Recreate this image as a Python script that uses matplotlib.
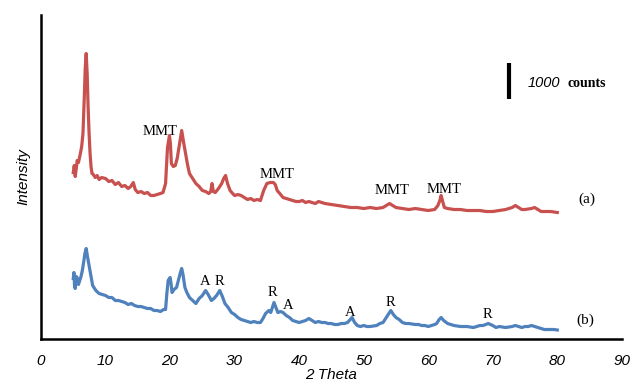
import matplotlib.pyplot as plt

# XRD patterns, intensities in arbitrary units
theta_a = [5.0, 5.15, 5.3, 5.5, 5.6, 5.8, 6.1, 6.3, 6.5, 6.7, 6.85, 7.0, 7.15, 7.3, 7.45,
           7.6, 7.75, 7.9, 8.1, 8.4, 8.7, 9.0, 9.4, 10, 10.5, 11, 11.5, 12, 12.5, 13,
           13.5, 13.9, 14.3, 14.6, 15, 15.5, 16, 16.5, 17, 17.5, 18, 18.5, 18.9, 19.3,
           19.6, 19.9, 20.05, 20.2, 20.5, 20.8, 21.1, 21.3, 21.6, 21.8, 22.1, 22.4,
           22.7, 23, 23.5, 24, 24.5, 25, 25.5, 26, 26.3, 26.5, 26.7, 27, 27.5, 28,
           28.3, 28.6, 28.9, 29.3, 29.7, 30, 30.5, 31, 31.5, 32, 32.5, 33, 33.5, 34,
           34.5, 35, 35.5, 36, 36.3, 36.6, 37, 37.5, 38, 38.5, 39, 39.5, 40, 40.5, 41,
           41.5, 42, 42.5, 43, 43.5, 44, 45, 46, 47, 48, 49, 50, 51, 52, 53, 53.5, 54,
           54.5, 55, 56, 57, 58, 59, 60, 61, 61.5, 61.8, 62, 62.2, 62.5, 63, 64, 65,
           66, 67, 68, 69, 70, 71, 72, 73, 73.5, 74, 74.5, 75, 76, 76.5, 77, 77.5, 78,
           79, 80]
int_a = [166, 173, 162, 172, 178, 176, 185, 192, 205, 240, 270, 285, 265, 231, 205,
         185, 172, 165, 164, 161, 163, 159, 161, 160, 157, 158, 154, 156, 152, 153,
         150, 152, 156, 149, 146, 147, 145, 146, 143, 143, 144, 145, 146, 155,
         191, 203, 195, 175, 172, 173, 180, 188, 200, 208, 196, 185,
         174, 165, 160, 155, 152, 148, 147, 145, 147, 155, 147, 146, 150, 155,
         160, 163, 155, 148, 145, 143, 144, 143, 141, 139, 140, 138, 139, 138,
         148, 155, 156, 156, 154, 148, 145, 141, 140, 139, 138, 137, 137, 138, 136,
         137, 136, 135, 137, 136, 135, 134, 133, 132, 131, 131, 130, 131, 130, 131, 133, 135,
         133, 131, 130, 129, 130, 129, 128, 129, 133, 138, 143, 138, 131, 130, 129, 129,
         128, 128, 128, 127, 127, 128, 129, 131, 133, 131, 129, 129, 130, 131, 129, 127, 127,
         127, 126]

theta_b = [5.0, 5.1, 5.2, 5.3, 5.45, 5.6, 5.8, 6.0, 6.2, 6.4, 6.6, 6.8, 7.0, 7.2, 7.5,
           7.8, 8.0, 8.5, 9, 9.5, 10, 10.5, 11, 11.5, 12, 12.5, 13, 13.5, 14, 14.5, 15,
           15.5, 16, 16.5, 17, 17.5, 18, 18.5, 19, 19.3, 19.5, 19.7, 20.0, 20.15, 20.3,
           20.6, 21, 21.2, 21.4, 21.6, 21.8, 22.0, 22.3, 22.6, 23, 23.5, 24, 24.5, 25,
           25.5, 25.9, 26.4, 26.8, 27.2, 27.7, 28.1, 28.5, 29, 29.5, 30, 30.5, 31, 31.5,
           32, 32.5, 33, 33.5, 34, 34.4, 34.8, 35.3, 35.6, 35.9, 36.1, 36.4, 36.7, 37.1,
           37.5, 38, 38.5, 39, 39.5, 40, 40.5, 41, 41.5, 42, 42.5, 43, 43.5, 44, 44.5,
           45, 45.5, 46, 46.5, 47, 47.5, 48.2, 48.6, 49, 49.5, 50, 50.5, 51, 52, 52.5,
           53, 53.6, 54.2, 54.6, 55, 55.5, 56, 56.5, 57, 58, 58.5, 59, 59.5, 60, 60.5,
           61, 61.3, 61.7, 62, 62.4, 63, 63.5, 64, 65, 66, 67, 67.5, 68, 68.5, 69.3, 70,
           70.5, 71, 72, 73, 73.5, 74, 74.5, 75, 75.5, 76, 76.5, 77, 77.5, 78, 79, 79.5, 80]
int_b = [60, 66, 52, 50, 62, 61, 54, 58, 62, 68, 76, 85, 90, 82, 71,
         60, 53, 48, 45, 44, 43, 41, 41, 38, 38, 37, 36, 34, 35, 33, 32,
         32, 31, 30, 30, 28, 28, 27, 29, 29, 45, 58, 61, 55, 46,
         49, 51, 56, 61, 66, 70, 64, 51, 46, 41, 38, 35, 40, 43,
         48, 44, 38, 40, 43, 48, 42, 35, 31, 26, 24, 21, 19, 18,
         17, 16, 17, 16, 16, 20, 25, 28, 26, 32, 36, 31, 26, 27,
         26, 23, 21, 18, 17, 16, 17, 18, 20, 18, 16, 17, 16, 16, 15,
         15, 14, 14, 15, 15, 16, 21, 16, 13, 12, 13, 12, 12, 13, 15,
         16, 22, 28, 24, 21, 19, 16, 15, 15, 14, 14, 13, 13, 12, 13,
         14, 15, 19, 21, 18, 15, 14, 13, 12, 12, 11, 12, 13, 13, 15, 13,
         11, 12, 11, 12, 13, 12, 11, 12, 12, 13, 12, 11, 10, 9, 9, 9, 8.5]

# phase labels: (text, 2theta, height)
labels_a = [("MMT", 18.4, 207), ("MMT", 36.6, 164), ("MMT", 54.4, 148), ("MMT", 62.4, 149)]
labels_b = [("A", 25.4, 57), ("R", 27.7, 57), ("R", 35.8, 46), ("A", 38.3, 33),
            ("A", 47.9, 26), ("R", 54.2, 36), ("R", 69.1, 24)]
xticks = [0, 10, 20, 30, 40, 50, 60, 70, 80, 90]

red = '#c8504e'
blue = '#4f81bd'
serif = 'Liberation Serif'
sans = 'Liberation Sans'

fig = plt.figure(figsize=(6.32, 3.89), dpi=100)
ax = fig.add_axes([0.0649, 0.1298, 0.919, 0.8316])

ax.plot(theta_a, int_a, color=red, lw=2.3, solid_joinstyle='round')
ax.plot(theta_b, int_b, color=blue, lw=2.3, solid_joinstyle='round')

for txt, x, y in labels_a + labels_b:
    ax.text(x, y, txt, ha='center', va='center', family=serif, fontsize=10.5)

ax.text(84.6, 139, '(a)', ha='center', va='center', family=serif, fontsize=11)
ax.text(84.3, 18, '(b)', ha='center', va='center', family=serif, fontsize=11)

# 1000 counts scale bar
ax.plot([72.5, 72.5], [239.5, 275.5], color='black', lw=3, solid_capstyle='butt')
ax.text(75.4, 255.5, '1000', ha='left', va='center', family=sans, style='italic', fontsize=10.5)
ax.text(81.6, 255.5, 'counts', ha='left', va='center', family=serif, weight='bold', fontsize=10)

ax.set_xlim(0, 90)
ax.set_ylim(0, 323.5)
ax.set_xticks(xticks)
ax.set_xticklabels([str(t) for t in xticks], family=sans, style='italic', fontsize=11)
ax.set_yticks([])
ax.tick_params(axis='x', length=0, pad=11)
for s in ['top', 'right']:
    ax.spines[s].set_visible(False)
for s in ['left', 'bottom']:
    ax.spines[s].set_linewidth(1.8)
ax.set_xlabel('2 Theta', family=sans, style='italic', fontsize=11, labelpad=0)
ax.set_ylabel('Intensity', family=sans, style='italic', fontsize=11, labelpad=8)

fig.savefig('out.png', dpi=100)
